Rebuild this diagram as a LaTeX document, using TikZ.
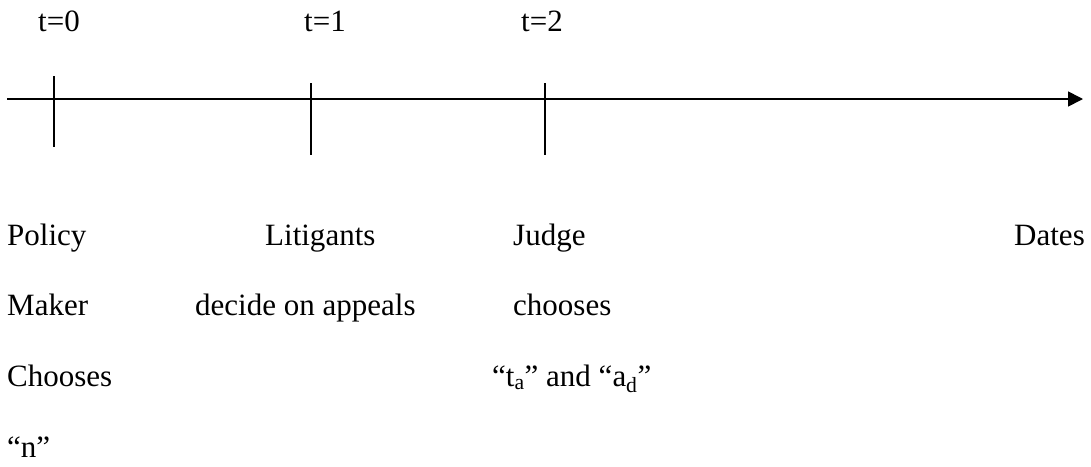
\documentclass[tikz,border=0pt]{standalone}
\usepackage{fontspec}
\setmainfont{Liberation Serif}
\usetikzlibrary{arrows.meta}
\tikzset{
  lbl/.style={inner sep=0pt, anchor=base west, font=\fontsize{31}{37}\selectfont},
  lble/.style={lbl, anchor=base east},
  lblc/.style={lbl, anchor=base},
  axis/.style={line width=1.6pt, -{Triangle[length=15pt,width=15pt]}},
  tick/.style={line width=1.6pt}
}
\begin{document}
\begin{tikzpicture}[x=1pt,y=-1pt]
\useasboundingbox (0,0) rectangle (1091,466);
% axis
\coordinate (a0) at (7,99);
\coordinate (a1) at (1083,99);
\draw[axis] (a0) -- (a1);
% ticks
\coordinate (k0t) at (54,76);  \coordinate (k0b) at (54,147);
\coordinate (k1t) at (311,83); \coordinate (k1b) at (311,155);
\coordinate (k2t) at (545,83); \coordinate (k2b) at (545,155);
\draw[tick] (k0t) -- (k0b);
\draw[tick] (k1t) -- (k1b);
\draw[tick] (k2t) -- (k2b);
% time labels
\node[lblc] (t0) at (59,31) {t=0};
\node[lblc] (t1) at (325,31) {t=1};
\node[lblc] (t2) at (542,31) {t=2};
% row 1
\node[lbl] (policy) at (7,245) {Policy};
\node[lbl] (litig) at (265,245) {Litigants};
\node[lbl] (judge) at (513,245) {Judge};
\node[lble] (dates) at (1085,245) {Dates};
% row 2
\node[lbl] (maker) at (7,315) {Maker};
\node[lbl] (decide) at (195,315) {decide on appeals};
\node[lbl] (chooses) at (513,315) {chooses};
% row 3
\node[lbl] (Chooses) at (7,386) {Chooses};
\node[lbl] (tad) at (492,386) {``t\textsubscript{a}'' and ``a\textsubscript{d}''};
% row 4
\node[lbl] (n) at (7,457) {``n''};
\end{tikzpicture}
\end{document}
